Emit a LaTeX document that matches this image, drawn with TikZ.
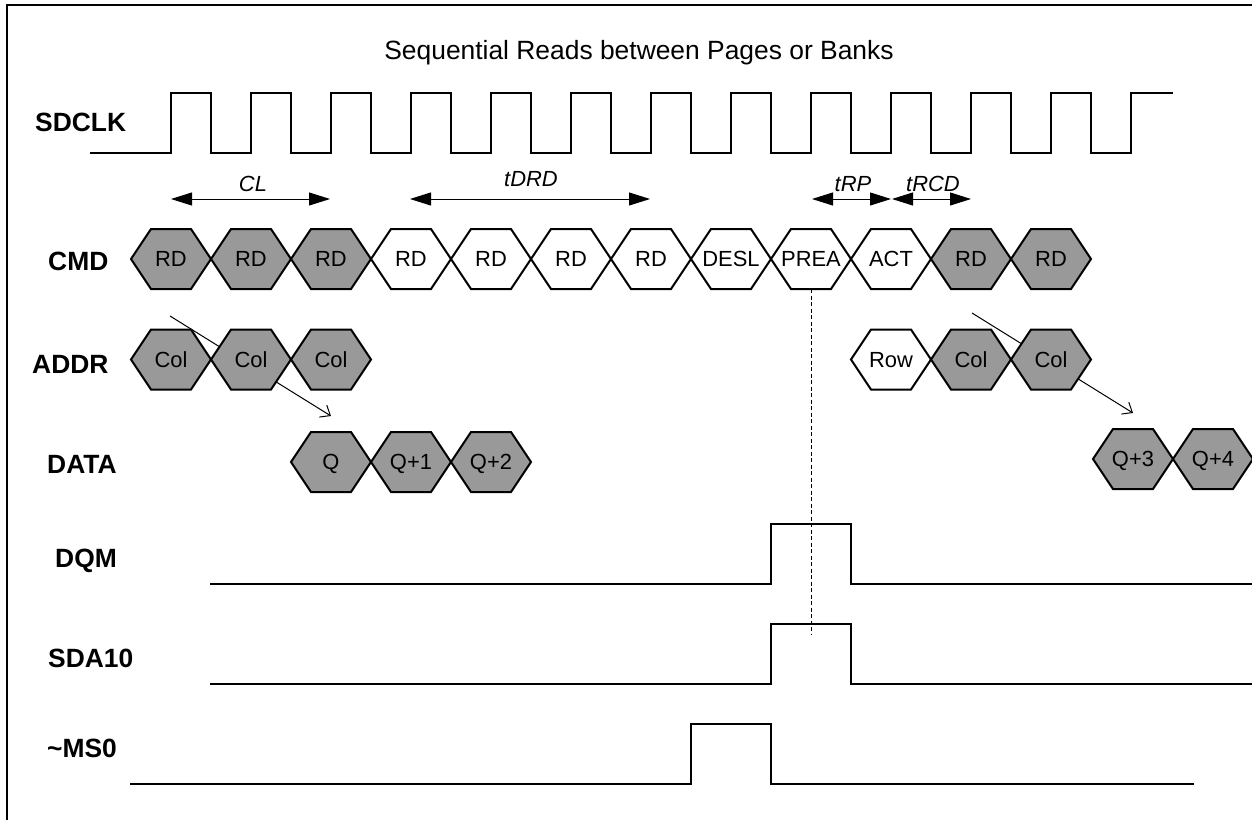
\documentclass[tikz,border=0pt]{standalone}
\usepackage{fontspec}
\setmainfont{Liberation Sans}
\usetikzlibrary{arrows.meta}
\definecolor{busgray}{RGB}{153,153,153}

\tikzset{
  wave/.style={line width=2bp, line join=miter},
  frame/.style={line width=2.2bp},
  hexline/.style={line width=2bp, line join=miter},
  hexlabel/.style={font=\fontsize{22}{26}\selectfont, inner sep=0pt,
    text height=15.8bp, text depth=0pt, anchor=center},
  siglabel/.style={font=\fontsize{26.5}{30}\selectfont\bfseries, inner sep=0pt, anchor=base west},
  timelabel/.style={font=\fontsize{22}{26}\selectfont\itshape, inner sep=0pt, anchor=base},
  titlelabel/.style={font=\fontsize{26.5}{30}\selectfont, inner sep=0pt, anchor=base},
  span/.style={line width=1bp,
    {Triangle[length=21bp,width=13bp]}-{Triangle[length=21bp,width=13bp]}},
  latency/.style={line width=1bp, -{Straight Barb[length=8.5bp,width=14bp]}},
  marker/.style={line width=1bp, dash pattern=on 4bp off 2.5bp},
}

% bus cell: fill, centre x, centre y, node name, text
\newcommand\bushex[5]{%
  \draw[hexline, fill=#1] (#2-40,#3) -- (#2-20,#3-30) -- (#2+20,#3-30)
    -- (#2+40,#3) -- (#2+20,#3+30) -- (#2-20,#3+30) -- cycle;
  \node[hexlabel] (#4) at (#2,#3) {#5};
}

\begin{document}
\begin{tikzpicture}[x=1bp, y=-1bp]
\useasboundingbox (0,0) rectangle (1252,820);

% frame
\draw[frame] (7,820) -- (7,5) -- (1252,5);

% title
\node[titlelabel] (title) at (639,60) {Sequential Reads between Pages or Banks};

% signal names
\node[siglabel] (lclk)  at (35,131.5) {SDCLK};
\node[siglabel] (lcmd)  at (48,270.5) {CMD};
\node[siglabel] (laddr) at (32,373) {ADDR};
\node[siglabel] (ldata) at (47,473) {DATA};
\node[siglabel] (ldqm)  at (55,567) {DQM};
\node[siglabel] (lsda)  at (48,667) {SDA10};
\node[siglabel] (lms)   at (47,757) {\char`\~MS0};

% clock
\draw[wave] (90,153)
  \foreach \k in {0,...,11}{ -- (171+80*\k,153) -- (171+80*\k,93) -- (211+80*\k,93) -- (211+80*\k,153) }
  -- (1131,153) -- (1131,93) -- (1173,93);

% timing spans
\coordinate (clA) at (171,199);  \coordinate (clB) at (330,199);
\coordinate (drA) at (410,199);  \coordinate (drB) at (650,199);
\coordinate (rpA) at (812,199);  \coordinate (rpB) at (891,199);
\coordinate (rcA) at (892,199);  \coordinate (rcB) at (971,199);
\draw[span] (clA) -- (clB);
\draw[span] (drA) -- (drB);
\draw[span] (rpA) -- (rpB);
\draw[span] (rcA) -- (rcB);
\node[timelabel] (tcl)  at (253,191) {CL};
\node[timelabel] (tdrd) at (531,186) {tDRD};
\node[timelabel] (trp)  at (853,191) {tRP};
\node[timelabel] (trcd) at (933,191) {tRCD};

% read latency arrows (behind the bus cells)
\coordinate (lat1s) at (170,316);  \coordinate (lat1e) at (331,416);
\coordinate (lat2s) at (972,313);  \coordinate (lat2e) at (1133,413);
\draw[latency] (lat1s) -- (lat1e);
\draw[latency] (lat2s) -- (lat2e);

% command bus
\foreach \cx/\lab/\fc [count=\i] in {171/RD/busgray, 251/RD/busgray, 331/RD/busgray,
    411/RD/white, 491/RD/white, 571/RD/white, 651/RD/white, 731/DESL/white,
    811/PREA/white, 891/ACT/white, 971/RD/busgray, 1051/RD/busgray}
  {\bushex{\fc}{\cx}{259}{cmd\i}{\lab}}

% address bus
\foreach \cx/\lab/\fc [count=\i] in {171/Col/busgray, 251/Col/busgray, 331/Col/busgray,
    891/Row/white, 971/Col/busgray, 1051/Col/busgray}
  {\bushex{\fc}{\cx}{359.5}{addr\i}{\lab}}

% data bus
\foreach \cx/\lab [count=\i] in {331/Q, 411/Q+1, 491/Q+2}
  {\bushex{busgray}{\cx}{462}{data\i}{\lab}}
\foreach \cx/\lab [count=\i] in {1133/Q+3, 1213/Q+4}
  {\bushex{busgray}{\cx}{459}{dataB\i}{\lab}}

% precharge marker
\coordinate (preBot) at (811,289);
\coordinate (preEnd) at (811,635);
\draw[marker] (preBot) -- (preEnd);

% control signals
\draw[wave] (210,584) -- (771,584) -- (771,524) -- (851,524) -- (851,584) -- (1252,584);
\draw[wave] (210,684) -- (771,684) -- (771,624) -- (851,624) -- (851,684) -- (1252,684);
\draw[wave] (130,784) -- (691,784) -- (691,724) -- (771,724) -- (771,784) -- (1194,784);
\end{tikzpicture}
\end{document}
